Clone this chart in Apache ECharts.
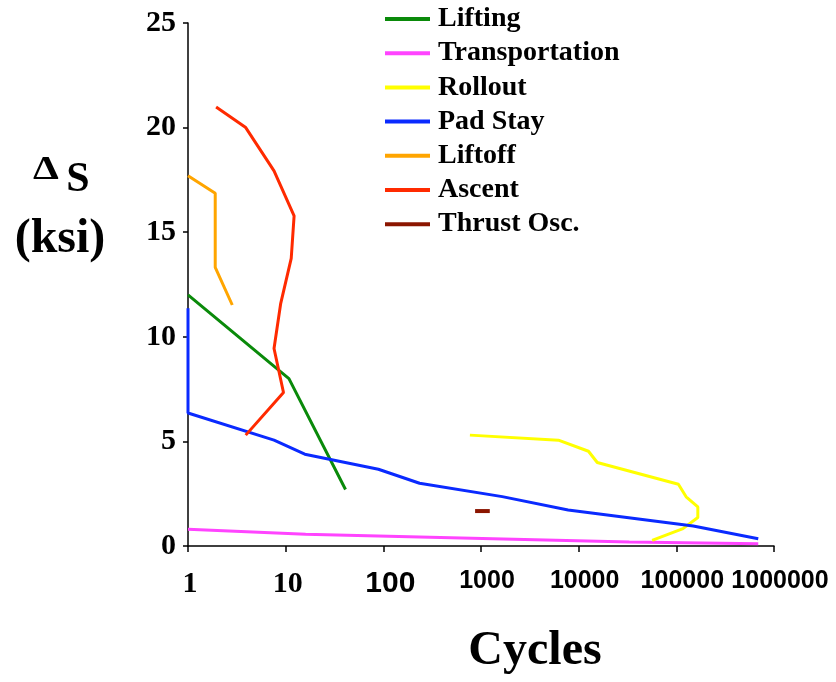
<!DOCTYPE html>
<html>
<head>
<meta charset="utf-8">
<title>Stress range vs cycles</title>
<script src="https://cdn.jsdelivr.net/npm/echarts@6/dist/echarts.min.js"></script>
<style>
    html, body { margin: 0; padding: 0; background: #fff; }
    #chart { width: 836px; height: 682px; }
</style>
</head>
<body>
<div id="chart"></div>
<script>
"use strict";
// [cycles, ksi]
const lifting = [[1, 12.0], [10.8, 8.0], [41, 2.7]];
const transportation = [[1, 0.8], [16, 0.56], [300, 0.42], [33000, 0.19], [690000, 0.11]];
const rollout = [[770, 5.3], [6200, 5.06], [12600, 4.53], [15500, 3.99], [105000, 2.95],
    [126000, 2.35], [166000, 1.87], [166000, 1.36], [117000, 0.83], [56500, 0.27]];
const padStay = [[1, 11.36], [1, 6.36], [7.6, 5.06], [15.7, 4.39], [89, 3.67], [235, 3.0],
    [1650, 2.36], [7800, 1.72], [149000, 0.96], [690000, 0.35]];
const liftoff = [[1, 17.7], [1.9, 16.86], [1.9, 13.32], [2.84, 11.52]];
const ascent = [[1.94, 20.98], [3.9, 20.0], [7.6, 17.93], [12.2, 15.78], [11.4, 13.75],
    [8.9, 11.6], [7.6, 9.44], [9.5, 7.34], [3.9, 5.3]];
const thrustOsc = [[870, 1.67], [1230, 1.67]];

const seriesNames = ['Lifting', 'Transportation', 'Rollout', 'Pad Stay', 'Liftoff', 'Ascent', 'Thrust Osc.'];
const seriesData = [lifting, transportation, rollout, padStay, liftoff, ascent, thrustOsc];
const seriesColors = ['#0a8a0a', '#ff44ff', '#ffff00', '#0a2aff', '#ffa500', '#ff2a00', '#8b1500'];
const yTicks = [0, 5, 10, 15, 20, 25];

(() => {
    let chart = echarts.init(document.getElementById('chart'));
    const serif = 'Liberation Serif, Times New Roman, serif';
    const sans = 'Liberation Sans, Arial, sans-serif';

    let series = seriesNames.map((name, i) => ({
        name: name,
        type: 'line',
        data: seriesData[i],
        showSymbol: false,
        symbol: 'none',
        lineStyle: { width: i === 6 ? 4 : 3, color: seriesColors[i] },
        itemStyle: { color: seriesColors[i] },
        animation: false
    }));

    chart.setOption({
        backgroundColor: '#fff',
        grid: { left: 188, right: 62, top: 23, bottom: 136, outerBoundsMode: 'none' },
        legend: {
            data: seriesNames,
            orient: 'vertical',
            left: 385,
            top: 5,
            padding: 0,
            icon: 'rect',
            itemWidth: 45,
            itemHeight: 4,
            itemGap: 6.2,
            textStyle: { fontFamily: serif, fontWeight: 'bold', fontSize: 28, lineHeight: 28, color: '#000', padding: [0, 0, 0, 3] }
        },
        xAxis: {
            type: 'log',
            logBase: 10,
            min: 1,
            max: 1000000,
            axisLine: { lineStyle: { color: '#000', width: 1.5 } },
            axisTick: { length: 6, lineStyle: { color: '#000', width: 1.5 } },
            splitLine: { show: false },
            minorTick: { show: false },
            axisLabel: {
                margin: 23,
                formatter: v => (v < 100 ? '{s|' + v + '}' : v === 100 ? '{h|' + v + '}' : '{a|' + v + '}'),
                rich: {
                    s: { fontFamily: serif, fontWeight: 'bold', fontSize: 30, color: '#000', padding: [0, 0, 0, 4] },
                    h: { fontFamily: sans, fontWeight: 'bold', fontSize: 30, color: '#000', padding: [0, 0, 0, 14] },
                    a: { fontFamily: sans, fontWeight: 'bold', fontSize: 25, color: '#000', padding: [0, 0, 0, 12] }
                }
            }
        },
        yAxis: {
            type: 'value',
            min: yTicks[0],
            max: yTicks[yTicks.length - 1],
            interval: 5,
            axisLine: { show: true, lineStyle: { color: '#000', width: 1.5 } },
            axisTick: { show: true, length: 5, lineStyle: { color: '#000', width: 1.5 } },
            splitLine: { show: false },
            axisLabel: { margin: 12, fontFamily: serif, fontWeight: 'bold', fontSize: 30, color: '#000' }
        },
        graphic: [
            { type: 'text', x: 46, y: 170, scaleX: 1.25, style: { x: 0, y: 0, text: 'Δ', font: 'bold 33px ' + serif, fill: '#000', align: 'center', verticalAlign: 'middle' } },
            { type: 'text', style: { x: 78, y: 180, text: 'S', font: 'bold 42px ' + serif, fill: '#000', align: 'center', verticalAlign: 'middle' } },
            { type: 'text', style: { x: 60, y: 240, text: '(ksi)', font: 'bold 48px ' + serif, fill: '#000', align: 'center', verticalAlign: 'middle' } },
            { type: 'text', style: { x: 535, y: 652, text: 'Cycles', font: 'bold 48px ' + serif, fill: '#000', align: 'center', verticalAlign: 'middle' } }
        ],
        series: series
    });
})();
</script>
</body>
</html>
